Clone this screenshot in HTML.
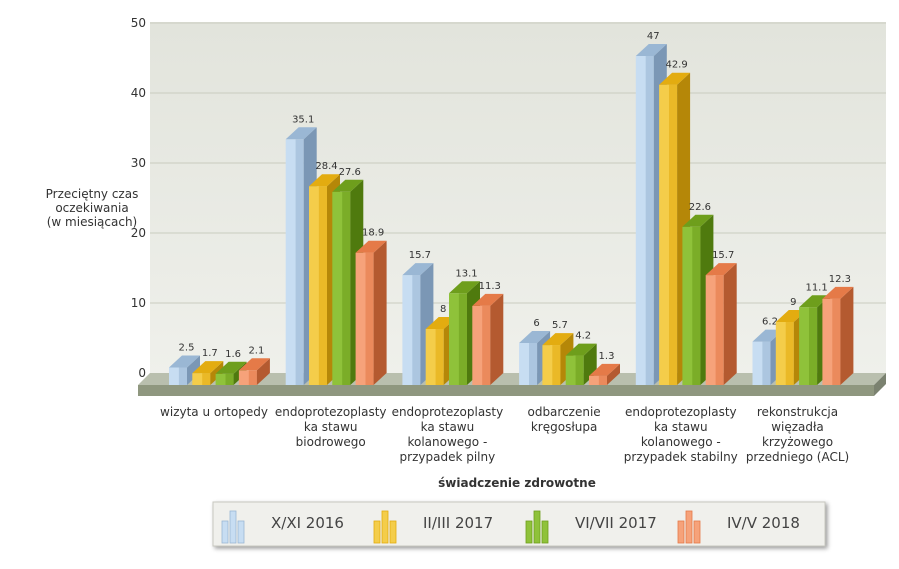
<!DOCTYPE html>
<html><head><meta charset="utf-8"><style>
body{margin:0;background:#fff;font-family:"Liberation Sans",sans-serif}
svg text{font-family:"DejaVu Sans","Liberation Sans",sans-serif}
</style></head><body>
<svg id="c" width="899" height="564">
<defs>
<linearGradient id="wall" x1="0" y1="0" x2="0" y2="1"><stop offset="0" stop-color="#e2e4dc"/><stop offset="1" stop-color="#eff0eb"/></linearGradient>
</defs>
<rect x="150" y="22" width="736" height="352" fill="url(#wall)"/>
<g id="grid"></g>
<polygon points="150,373 886,373 874,385 138,385" fill="#b9bfae"/>
<polygon points="138,385 874,385 874,396 138,396" fill="#8f977f"/>
<polygon points="874,385 886,373 886,384 874,396" fill="#7b8270"/>
<g id="bars"></g>
<g id="xl"></g>
<text x="92" y="198" font-size="12" fill="#333" text-anchor="middle"><tspan x="92">Przeciętny czas</tspan><tspan x="92" dy="14">oczekiwania</tspan><tspan x="92" dy="14">(w miesiącach)</tspan></text>
<text x="517" y="487" font-size="12" font-weight="bold" fill="#333" text-anchor="middle">świadczenie zdrowotne</text>
<g>
<rect x="213" y="502" width="612" height="44" fill="#f0f0ec" stroke="#c8c8c0" style="filter:drop-shadow(2px 2px 2px #999)"/>
<g id="leg"></g>
</g>
</svg>
<script>
const categories=[["wizyta u ortopedy"],["endoprotezoplasty","ka stawu","biodrowego"],["endoprotezoplasty","ka stawu","kolanowego -","przypadek pilny"],["odbarczenie","kręgosłupa"],["endoprotezoplasty","ka stawu","kolanowego -","przypadek stabilny"],["rekonstrukcja","więzadła","krzyżowego","przedniego (ACL)"]];
const seriesNames=["X/XI 2016","II/III 2017","VI/VII 2017","IV/V 2018"];
const s1=[2.5,35.1,15.7,6,47,6.2];
const s2=[1.7,28.4,8,5.7,42.9,9];
const s3=[1.6,27.6,13.1,4.2,22.6,11.1];
const s4=[2.1,18.9,11.3,1.3,15.7,12.3];
const yTicks=[0,10,20,30,40,50];
const series=[s1,s2,s3,s4];
const cols=[["#c7ddf2","#9ab7d4","#7b97b5"],["#f4cd4a","#e3ac10","#b58708"],["#8fc23a","#6e9e1c","#4f7a0e"],["#f6a27a","#e57a48","#b45a30"]];
const NS="http://www.w3.org/2000/svg";
function mk(t,a,p){const e=document.createElementNS(NS,t);for(const k in a)e.setAttribute(k,a[k]);p.appendChild(e);return e;}
const base=385,sc=7,dx=13,dy=12;
const yv=v=>base-v*sc;
const xb=(g,s)=>169+g*116.7+s*23.3;
const grid=document.getElementById('grid');
yTicks.forEach(t=>{
 if(t>0){const l=mk('line',{x1:150,x2:886,y1:yv(t)-dy,y2:yv(t)-dy,stroke:'#c9ccbf'},grid);
 }
 const tx=mk('text',{x:146,y:yv(t)-dy+4,'font-size':12,fill:'#333','text-anchor':'end'},grid);
 tx.textContent=t;
});
const bars=document.getElementById('bars');
categories.forEach((c,g)=>{series.forEach((s,i)=>{
 const x=xb(g,i),w=18,v=s[g],y=yv(v),cc=cols[i];
 const gr=mk('g',{},bars);
 mk('rect',{x:x,y:y,width:w,height:base-y,fill:cc[0]},gr);
 mk('rect',{x:x+w*0.55,y:y,width:w*0.45,height:base-y,fill:cc[1],opacity:0.6},gr);
 mk('polygon',{points:`${x+w},${y} ${x+w+dx},${y-dy} ${x+w+dx},${base-dy} ${x+w},${base}`,fill:cc[2]},gr);
 mk('polygon',{points:`${x},${y} ${x+dx},${y-dy} ${x+w+dx},${y-dy} ${x+w},${y}`,fill:cc[1]},gr);
 const t=mk('text',{x:x+w/2+dx/2+2,y:y-dy-5,'font-size':10,fill:'#333','text-anchor':'middle'},gr);
 t.textContent=v;
});
 const xl=document.getElementById('xl');
 const t=mk('text',{'font-size':12,fill:'#333','text-anchor':'middle'},xl);
 
 const cx=xb(g,0)+45;
 c.forEach((ln,k)=>{const sp=mk('tspan',{x:cx,y:416+k*15},t);sp.textContent=ln;});
});
const leg=document.getElementById('leg');
seriesNames.forEach((n,i)=>{
 const x0=222+i*152;const gr=mk('g',{},leg);
 [[0,11,22],[8,1,32],[16,11,22]].forEach(b=>mk('rect',{x:x0+b[0],y:510+b[1],width:6,height:b[2],fill:cols[i][0],stroke:cols[i][1],'stroke-width':0.8},gr));
 const t=mk('text',{x:x0+49,y:528,'font-size':15,fill:'#444'},gr);t.textContent=n;
});
</script>
</body></html>
